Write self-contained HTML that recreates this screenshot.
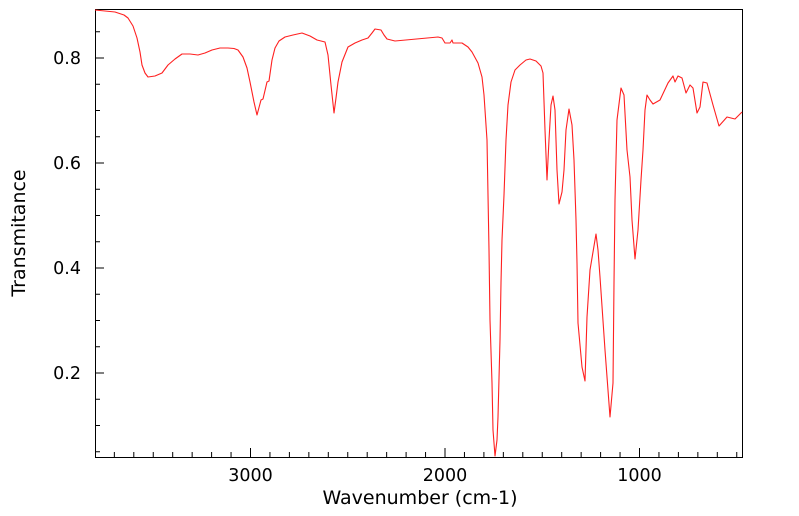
<!DOCTYPE html>
<html><head><meta charset="utf-8"><style>
html,body{margin:0;padding:0;background:#fff;}
svg{display:block;font-family:"DejaVu Sans","Liberation Sans",sans-serif;}
</style></head><body>
<svg width="799" height="516" viewBox="0 0 799 516" xmlns="http://www.w3.org/2000/svg">
<rect x="0" y="0" width="799" height="516" fill="#fff"/>
<g stroke="#000" stroke-width="1" fill="none">
<rect x="95.5" y="9.5" width="647" height="448"/>
<path d="M114.35 457v-5M133.8 457v-5M153.25 457v-5M172.7 457v-5M192.15 457v-5M211.6 457v-5M231.05 457v-5M250.5 457v-9M269.95 457v-5M289.4 457v-5M308.85 457v-5M328.3 457v-5M347.75 457v-5M367.2 457v-5M386.65 457v-5M406.1 457v-5M425.55 457v-5M445 457v-9M464.45 457v-5M483.9 457v-5M503.35 457v-5M522.8 457v-5M542.25 457v-5M561.7 457v-5M581.15 457v-5M600.6 457v-5M620.05 457v-5M639.5 457v-9M658.95 457v-5M678.4 457v-5M697.85 457v-5M717.3 457v-5M736.75 457v-5"/>
<path d="M95 31.75h5M95 58h9M95 84.25h5M95 110.5h5M95 136.75h5M95 163h9M95 189.25h5M95 215.5h5M95 241.75h5M95 268h9M95 294.25h5M95 320.5h5M95 346.75h5M95 373h9M95 399.25h5M95 425.5h5M95 451.75h5"/>
</g>
<g font-size="17.5" fill="#000">
<text x="250.5" y="481" text-anchor="middle">3000</text>
<text x="445" y="481" text-anchor="middle">2000</text>
<text x="639.5" y="481" text-anchor="middle">1000</text>
<text x="81" y="64" text-anchor="end">0.8</text>
<text x="81" y="169" text-anchor="end">0.6</text>
<text x="81" y="274" text-anchor="end">0.4</text>
<text x="81" y="379" text-anchor="end">0.2</text>
</g>
<text x="420" y="504" text-anchor="middle" font-size="19">Wavenumber (cm-1)</text>
<text transform="translate(25,233) rotate(-90)" text-anchor="middle" font-size="19">Transmitance</text>
<polyline fill="none" stroke="#ff2020" stroke-width="1.1" stroke-linejoin="round" points="
95,10 115,12 124,15 128,18 133,26 137,38 140,52 142,65 145,73 148,77 155,76 162,73 168,65 175,59 182,54 190,54 198,55 205,53 212,50 220,48 228,48 234,48.5 238,50 243,57 247,68 250,82 254,102 257,115 261,100 263,99 267,82 269,81 272,60 275,48 279,41 285,37 293,35 302,33 310,36 317,40 325,42 328,55 331,85 334,113 336,98 338,82 342,62 348,47 355,43 362,40 368,38 372,33 375,29 381,30 384,35 387,39 395,41 438,37 442,38 445,43 450,43 452,40 453,43 462,43 468,47 472,52 478,63 482,77 484,95 487,140 489,250 490,320 492,383 493,430 495,456 497,440 498,417 500,340 501,283 502,240 504,195 506,140 508,105 511,82 515,70 520,65 526,60 530,59 536,61 541,66 543,73 545,130 547,180 549,140 551,105 553,96 555,110 557,170 559,204 562,192 564,170 566,130 569,109 572,125 574,160 576,220 577,263 578,323 582,367 585,381 587,317 590,270 596,234 598,250 600,277 605,350 610,417 613,383 614,283 615,200 617,120 621,88 624,95 627,150 630,177 632,220 635,259 638,230 641,180 643,150 645,110 647,95 650,100 653,104 660,100 668,83 673,76 675,82 678,76 682,78 686,93 690,85 693,88 697,113 700,107 703,82 707,83 713,105 719,126 727,117 735,119 742,112"/>
</svg>
</body></html>
